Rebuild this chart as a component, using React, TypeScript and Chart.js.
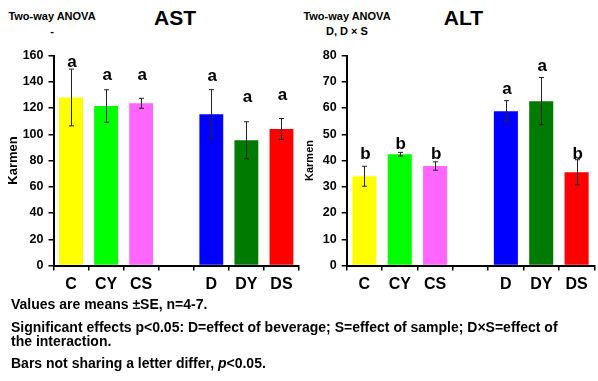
import React, { useEffect, useRef } from "react";
import { Chart, registerables } from "chart.js";

Chart.register(...registerables);

const FONT = "'Liberation Sans', Arial, sans-serif";

const categories = ["C", "CY", "CS", "", "D", "DY", "DS"];
const barColors = ["#FFFF00", "#00FF00", "#FF66FF", "rgba(0,0,0,0)", "#0000FF", "#007A00", "#FF0000"];

const astMeans = [128, 121.5, 123.6, null, 115.2, 95.4, 104];
const astSE = [21.6, 12.4, 3.8, null, 18.8, 14.1, 8];
const astLetters = ["a", "a", "a", "", "a", "a", "a"];
const astLetterAt = [151.5, 141.3, 141.3, null, 140.8, 124.3, 126];
const astTicks = { min: 0, max: 160, step: 20 };

const altMeans = [34, 42.4, 37.9, null, 58.8, 62.6, 35.5];
const altSE = [3.8, 0.7, 1.6, null, 4, 9, 4.8];
const altLetters = ["b", "b", "b", "", "a", "a", "b"];
const altLetterAt = [40.5, 44.4, 40.6, null, 65.2, 74.2, 40.5];
const altTicks = { min: 0, max: 80, step: 10 };

const notes = [
  "Values are means \u00B1SE, n=4-7.",
  "Significant effects p<0.05: D=effect of beverage; S=effect of sample; D\u00D7S=effect of",
  "the interaction.",
];

type Cfg = {
  means: (number | null)[];
  se: (number | null)[];
  letters: string[];
  letterAt: (number | null)[];
  ticks: { min: number; max: number; step: number };
  yWidth: number;
  padRight: number;
  titleSize: number;
  titlePad: number;
};

function makePlugin(cfg: Cfg) {
  return {
    id: "errLetters",
    afterDatasetsDraw(chart: any) {
      const ctx = chart.ctx;
      const meta = chart.getDatasetMeta(0);
      const ys = chart.scales.y;
      ctx.save();
      ctx.strokeStyle = "#222";
      ctx.lineWidth = 1;
      meta.data.forEach((el: any, i: number) => {
        const m = cfg.means[i];
        const s = cfg.se[i];
        if (m == null || s == null) return;
        const x = Math.round(el.x) + 0.5;
        const yt = ys.getPixelForValue(m + s);
        const yb = ys.getPixelForValue(m - s);
        ctx.beginPath();
        ctx.moveTo(x, yt);
        ctx.lineTo(x, yb);
        ctx.moveTo(x - 2.5, yt);
        ctx.lineTo(x + 2.5, yt);
        ctx.moveTo(x - 2.5, yb);
        ctx.lineTo(x + 2.5, yb);
        ctx.stroke();
      });
      ctx.fillStyle = "#000";
      ctx.font = `bold 17px ${FONT}`;
      ctx.textAlign = "center";
      ctx.textBaseline = "alphabetic";
      meta.data.forEach((el: any, i: number) => {
        const v = cfg.letterAt[i];
        if (v == null || !cfg.letters[i]) return;
        ctx.fillText(cfg.letters[i], el.x + 1, ys.getPixelForValue(v));
      });
      ctx.restore();
    },
  };
}

function BarChart({ cfg, left }: { cfg: Cfg; left: number }) {
  const ref = useRef<HTMLCanvasElement | null>(null);
  useEffect(() => {
    if (!ref.current) return;
    const chart = new Chart(ref.current, {
      type: "bar",
      data: {
        labels: categories,
        datasets: [
          {
            data: cfg.means as any,
            backgroundColor: barColors,
            borderWidth: 0,
            categoryPercentage: 1,
            barPercentage: 0.68,
          },
        ],
      },
      options: {
        animation: false,
        responsive: false,
        maintainAspectRatio: false,
        layout: { padding: { top: 55.5, left: 0, right: cfg.padRight, bottom: 0 } },
        plugins: {
          legend: { display: false },
          tooltip: { enabled: false },
          title: { display: false },
        },
        scales: {
          x: {
            offset: true,
            grid: {
              display: true,
              drawOnChartArea: false,
              drawTicks: true,
              tickLength: 5,
              color: "#000",
              lineWidth: 1.5,
              offset: true,
            },
            border: { display: true, color: "#000", width: 2 },
            ticks: {
              color: "#000",
              font: { family: FONT, size: 16, weight: "bold" },
              padding: 4,
              autoSkip: false,
              maxRotation: 0,
            },
            afterFit: (s: any) => {
              s.height = 34.5;
            },
          },
          y: {
            min: cfg.ticks.min,
            max: cfg.ticks.max,
            ticks: {
              stepSize: cfg.ticks.step,
              color: "#000",
              font: { family: FONT, size: 12.5, weight: "bold" },
              padding: 5,
            },
            grid: {
              drawOnChartArea: false,
              drawTicks: true,
              tickLength: 5,
              color: "#000",
              lineWidth: 1.5,
            },
            border: { display: true, color: "#000", width: 2 },
            title: {
              display: true,
              text: "Karmen",
              color: "#000",
              font: { family: FONT, size: cfg.titleSize, weight: "bold" },
              padding: { top: cfg.titlePad, bottom: 0 },
            },
            afterFit: (s: any) => {
              s.width = cfg.yWidth;
            },
          },
        },
      } as any,
      plugins: [makePlugin(cfg)],
    });
    return () => chart.destroy();
  }, []);
  return (
    <canvas
      ref={ref}
      width={300}
      height={300}
      style={{ position: "absolute", left, top: 0, width: 300, height: 300 }}
    />
  );
}

const txt = (size: number): React.CSSProperties => ({
  position: "absolute",
  fontFamily: FONT,
  fontWeight: "bold",
  fontSize: size,
  lineHeight: `${size}px`,
  color: "#000",
  whiteSpace: "nowrap",
});

export default function App() {
  const astCfg: Cfg = {
    means: astMeans,
    se: astSE,
    letters: astLetters,
    letterAt: astLetterAt,
    ticks: astTicks,
    yWidth: 53.5,
    padRight: 1,
    titleSize: 13,
    titlePad: 5.7,
  };
  const altCfg: Cfg = {
    means: altMeans,
    se: altSE,
    letters: altLetters,
    letterAt: altLetterAt,
    ticks: altTicks,
    yWidth: 48.7,
    padRight: 3.7,
    titleSize: 11,
    titlePad: 5.4,
  };
  return (
    <div
      style={{
        position: "fixed",
        left: 0,
        top: 0,
        width: 598,
        height: 381,
        background: "#fff",
        overflow: "hidden",
      }}
    >
      <div style={{ ...txt(11), left: 2, width: 100, top: 10.7, textAlign: "center" }}>Two-way ANOVA</div>
      <div style={{ ...txt(11), left: 2, width: 100, top: 25.7, textAlign: "center" }}>-</div>
      <div style={{ ...txt(21), left: 125, width: 100, top: 7.2, textAlign: "center" }}>AST</div>
      <div style={{ ...txt(11), left: 297, width: 100, top: 10.7, textAlign: "center" }}>Two-way ANOVA</div>
      <div style={{ ...txt(11), left: 297, width: 100, top: 25.7, textAlign: "center" }}>D, D {"\u00D7"} S</div>
      <div style={{ ...txt(21), left: 413.5, width: 100, top: 7.2, textAlign: "center" }}>ALT</div>
      <BarChart cfg={astCfg} left={0} />
      <BarChart cfg={altCfg} left={298} />
      <div style={{ ...txt(14), left: 11, top: 296.6 }}>{notes[0]}</div>
      <div style={{ ...txt(14), left: 11, top: 320.2 }}>{notes[1]}</div>
      <div style={{ ...txt(14), left: 11, top: 334.2 }}>{notes[2]}</div>
      <div style={{ ...txt(14), left: 11, top: 355.7 }}>
        Bars not sharing a letter differ, <i>p</i>&lt;0.05.
      </div>
    </div>
  );
}
